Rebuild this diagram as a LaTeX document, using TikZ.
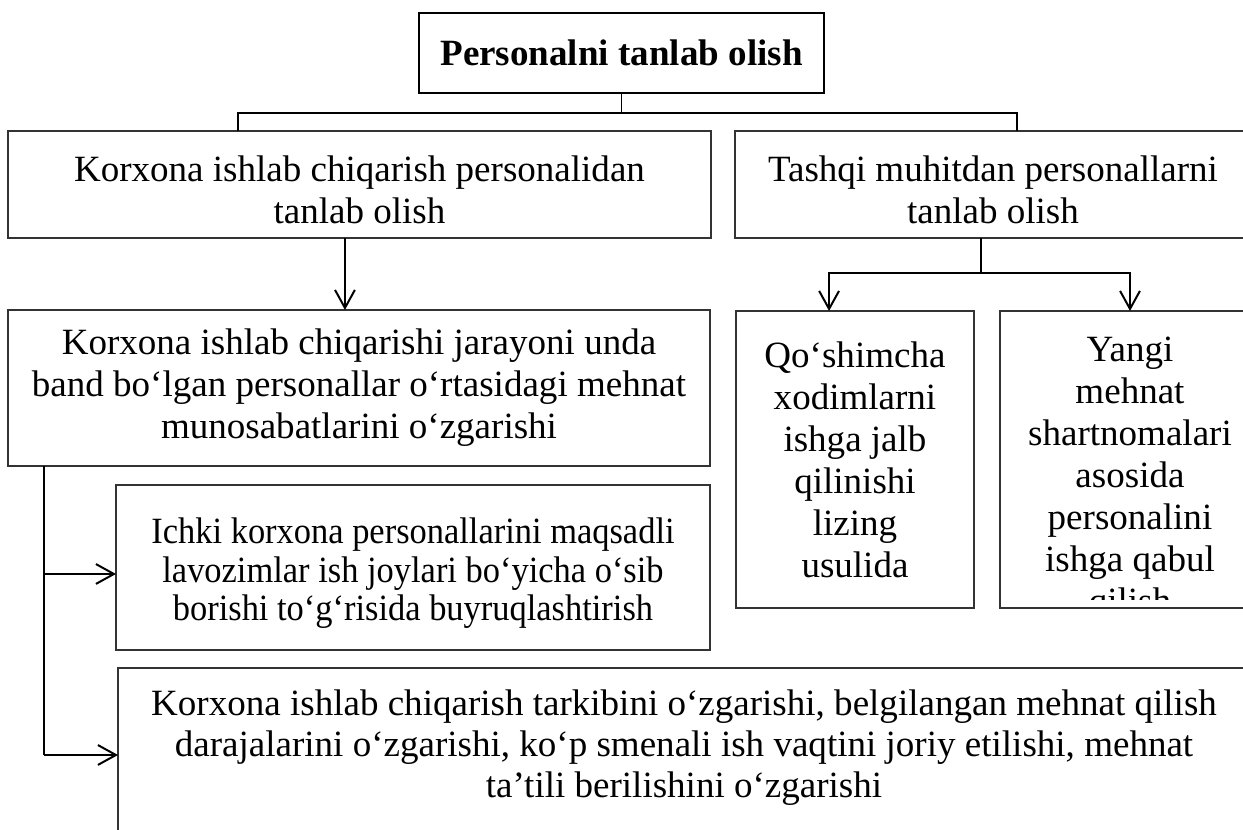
\documentclass[tikz,border=0pt]{standalone}
\usepackage{fontspec}
\setmainfont{Liberation Serif}
\newfontfamily\narrowfont[FakeStretch=0.93]{Liberation Serif}
\usetikzlibrary{arrows.meta, positioning}
\tikzset{
	box/.style={draw=black!80, line width=0.5pt, inner sep=0pt, outer sep=0pt, align=center, anchor=north west, font=\fontsize{14pt}{15.9pt}\selectfont},
	boxsize/.style 2 args={minimum width=#1*0.378pt, minimum height=#2*0.378pt},
	link/.style={line width=0.75pt},
	arr/.style={link, -{Straight Barb[length=6.8pt, width=7.5pt]}}
}

\begin{document}
\begin{tikzpicture}[x=0.378pt, y=-0.378pt]
	\useasboundingbox (0,0) rectangle (1243,830);
	\clip (0,0) rectangle (1243,830);
	\node[box, boxsize={405}{80}, draw=black, font=\fontsize{14pt}{16pt}\selectfont\bfseries] (title) at (419,13) {Personalni tanlab olish};
	\node[box, boxsize={703}{107}] (korx) at (8,131) {\rule{0pt}{13.4pt}Korxona ishlab chiqarish personalidan\\tanlab olish};
	\node[box, boxsize={516}{107}] (tashqi) at (735,131) {\rule{0pt}{13.4pt}Tashqi muhitdan personallarni\\tanlab olish};
	\node[box, boxsize={702}{156}] (jarayon) at (8,310) {Korxona ishlab chiqarishi jarayoni unda\\band bo‘lgan personallar o‘rtasidagi mehnat\\munosabatlarini o‘zgarishi};
	\node[box, boxsize={238}{297}] (qoshim) at (736,311) {Qo‘shimcha\\xodimlarni\\ishga jalb\\qilinishi\\lizing\\usulida};
	\node[box, boxsize={260}{297}] (yangi) at (1000,311) {};
	\begin{scope}
		\clip (1000,311) rectangle (1260,600);
		\node[box, draw=none, anchor=north] (yangitxt) at (1130,337) {Yangi\\mehnat\\shartnomalari\\asosida\\personalini\\ishga qabul\\qilish};
	\end{scope}
	\node[box, boxsize={594}{165}, font=\narrowfont\fontsize{14pt}{14.5pt}\selectfont] (ichki) at (116,485) {\rule{0pt}{14pt}Ichki korxona personallarini maqsadli\\lavozimlar ish joylari bo‘yicha o‘sib\\borishi to‘g‘risida buyruqlashtirish};
	\node[box, minimum width=1132*0.378pt, inner ysep=8.2pt, text depth=60pt, font=\fontsize{14pt}{15.5pt}\selectfont] (tarkib) at (118,668) {Korxona ishlab chiqarish tarkibini o‘zgarishi, belgilangan mehnat qilish\\darajalarini o‘zgarishi, ko‘p smenali ish vaqtini joriy etilishi, mehnat\\ta’tili berilishini o‘zgarishi};

	\coordinate (busL) at (238,113);
	\coordinate (busR) at (1017,113);
	\draw[link] (title.south) -- (title.south |- busL);
	\draw[link] (korx.north -| busL) |- (busR) -- (tashqi.north -| busR);
	\draw[arr] ([xshift=-5.5pt]korx.south) -- ([xshift=-5.5pt]korx.south |- jarayon.north);

	\coordinate (split) at (981,273);
	\draw[link] (tashqi.south -| split) -- (split);
	\draw[arr] (split) -| ([xshift=-9.8pt]qoshim.north);
	\draw[arr] (split) -| (yangi.north);

	\coordinate (t1) at (44,574);
	\coordinate (t2) at (44,755);
	\draw[link] (jarayon.south -| t1) -- (t2);
	\draw[arr] (t1) -- (t1 -| ichki.west);
	\draw[arr] (t2) -- (t2 -| tarkib.west);
\end{tikzpicture}
\end{document}
